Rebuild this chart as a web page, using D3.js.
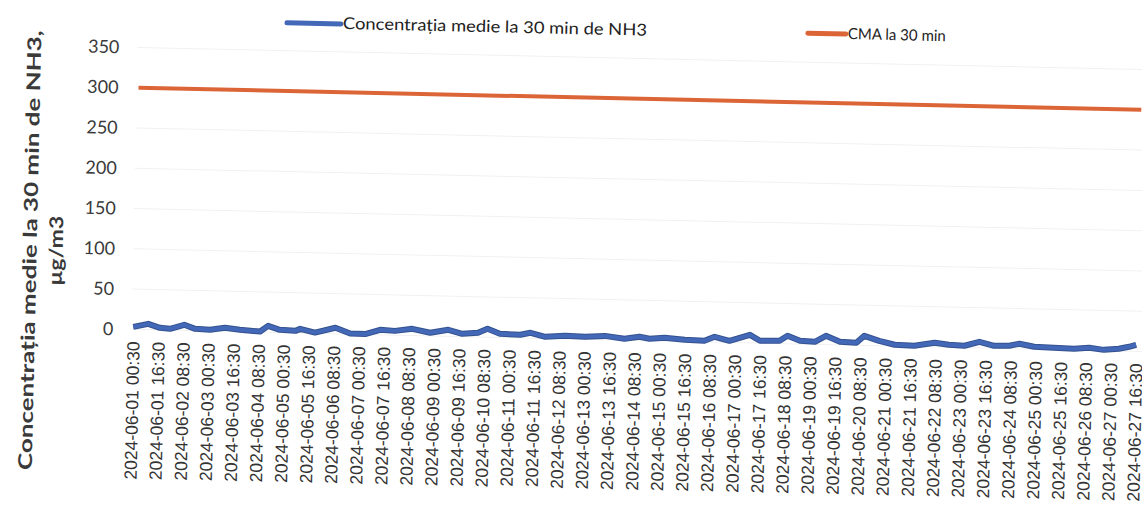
<!DOCTYPE html>
<html>
<head>
<meta charset="utf-8">
<script src="https://cdn.jsdelivr.net/npm/d3@7.9.0/dist/d3.min.js"></script>
<style>
  body { margin: 0; background: #fff; }
  svg { display: block; }
</style>
</head>
<body>
<svg width="1142" height="506"></svg>
<script>
// NH3 30-min average (µg/m3)
const nh3Times = [
  "2024-06-01 00:30", "2024-06-01 10:00", "2024-06-01 17:30", "2024-06-02 00:00",
  "2024-06-02 09:00", "2024-06-02 16:00", "2024-06-03 01:30", "2024-06-03 11:00",
  "2024-06-03 20:30", "2024-06-04 09:30", "2024-06-04 14:30", "2024-06-04 22:00",
  "2024-06-05 08:00", "2024-06-05 11:00", "2024-06-05 20:30", "2024-06-06 09:30",
  "2024-06-06 19:00", "2024-06-07 04:30", "2024-06-07 14:00", "2024-06-07 23:30",
  "2024-06-08 10:30", "2024-06-08 22:00", "2024-06-09 09:30", "2024-06-09 18:30",
  "2024-06-10 04:30", "2024-06-10 10:30", "2024-06-10 18:30", "2024-06-11 07:30",
  "2024-06-11 14:00", "2024-06-11 23:30", "2024-06-12 12:00", "2024-06-13 01:00",
  "2024-06-13 13:30", "2024-06-14 02:00", "2024-06-14 11:30", "2024-06-14 18:00",
  "2024-06-15 03:30", "2024-06-15 16:30", "2024-06-16 05:00", "2024-06-16 11:30",
  "2024-06-16 21:00", "2024-06-17 10:00", "2024-06-17 16:30", "2024-06-18 05:00",
  "2024-06-18 10:00", "2024-06-18 18:00", "2024-06-19 03:30", "2024-06-19 10:30",
  "2024-06-19 19:30", "2024-06-20 06:00", "2024-06-20 11:00", "2024-06-20 20:30",
  "2024-06-21 06:30", "2024-06-21 19:00", "2024-06-22 08:00", "2024-06-22 17:00",
  "2024-06-23 03:00", "2024-06-23 12:30", "2024-06-23 22:00", "2024-06-24 07:30",
  "2024-06-24 14:00", "2024-06-24 23:30", "2024-06-25 12:00", "2024-06-26 01:00",
  "2024-06-26 10:30", "2024-06-26 20:00", "2024-06-27 05:30", "2024-06-27 12:00",
  "2024-06-27 16:30"
];
const nh3Values = [
  3.1, 7.3, 2.7, 1.7, 7.1, 2.4, 1.6, 4.5,
  2.4, 0.8, 8.1, 3.5, 2.6, 5.2, 1.0, 7.5,
  0.9, 0.5, 6.2, 5.3, 8.3, 3.9, 8.1, 3.5,
  5.2, 10.4, 4.5, 3.9, 6.6, 2.0, 3.9, 3.1,
  4.8, 1.7, 4.6, 2.4, 4.1, 2.1, 1.4, 6.7,
  2.1, 10.1, 3.0, 3.5, 9.9, 4.0, 3.2, 10.9,
  3.9, 3.1, 12.0, 6.2, 1.7, 1.0, 5.2, 3.1,
  2.4, 7.7, 3.1, 3.6, 6.3, 3.0, 2.2, 1.6,
  3.2, 1.1, 2.9, 5.6, 8.3
];

// limit value (CMA) for 30 min
const cmaTimes = ["2024-06-01 00:30", "2024-06-27 16:30"];
const cmaValues = [300, 300];

const yTicks = [0, 50, 100, 150, 200, 250, 300, 350];

const xTickLabels = [
  "2024-06-01 00:30", "2024-06-01 16:30", "2024-06-02 08:30", "2024-06-03 00:30",
  "2024-06-03 16:30", "2024-06-04 08:30", "2024-06-05 00:30", "2024-06-05 16:30",
  "2024-06-06 08:30", "2024-06-07 00:30", "2024-06-07 16:30", "2024-06-08 08:30",
  "2024-06-09 00:30", "2024-06-09 16:30", "2024-06-10 08:30", "2024-06-11 00:30",
  "2024-06-11 16:30", "2024-06-12 08:30", "2024-06-13 00:30", "2024-06-13 16:30",
  "2024-06-14 08:30", "2024-06-15 00:30", "2024-06-15 16:30", "2024-06-16 08:30",
  "2024-06-17 00:30", "2024-06-17 16:30", "2024-06-18 08:30", "2024-06-19 00:30",
  "2024-06-19 16:30", "2024-06-20 08:30", "2024-06-21 00:30", "2024-06-21 16:30",
  "2024-06-22 08:30", "2024-06-23 00:30", "2024-06-23 16:30", "2024-06-24 08:30",
  "2024-06-25 00:30", "2024-06-25 16:30", "2024-06-26 08:30", "2024-06-27 00:30",
  "2024-06-27 16:30"
];

const seriesNames = ["Concentrația medie la 30 min de NH3", "CMA la 30 min"];
const seriesColors = ["#4468b8", "#dc6538"];

const parse = d3.timeParse("%Y-%m-%d %H:%M");
const nh3 = nh3Times.map((t, i) => ({ t: parse(t), v: nh3Values[i] }));
const cma = cmaTimes.map((t, i) => ({ t: parse(t), v: cmaValues[i] }));

const plotLeft = 135, plotRight = 1138;
const x = d3.scaleTime()
  .domain([parse(xTickLabels[0]), parse(xTickLabels[xTickLabels.length - 1])])
  .range([plotLeft, plotRight]);
const y = d3.scaleLinear().domain([0, 350]).range([339, 57]);

// the scanned page is slightly skewed, so the whole chart is tilted a bit
const svg = d3.select("svg")
  .append("g")
  .attr("transform", "rotate(1.26, 571, 253)");

// gridlines
svg.append("g")
  .selectAll("line")
  .data(yTicks)
  .join("line")
  .attr("x1", plotLeft - 2)
  .attr("x2", plotRight + 12)
  .attr("y1", (d) => y(d))
  .attr("y2", (d) => y(d))
  .attr("stroke", "#f1f1f1")
  .attr("stroke-width", 1);

// y axis labels
const yAxis = svg.append("g")
  .attr("transform", "translate(115,0)")
  .call(d3.axisLeft(y).tickValues(yTicks).tickSize(0).tickPadding(0));
yAxis.select(".domain").remove();
yAxis.selectAll("text")
  .attr("font-family", "Lato, sans-serif")
  .attr("font-size", "18px")
  .attr("fill", "#3a3a3a");

// x axis labels
const xAxis = svg.append("g")
  .attr("transform", "translate(0,351)")
  .call(d3.axisBottom(x).tickValues(xTickLabels.map(parse)).tickSize(0)
    .tickFormat((d, i) => xTickLabels[i]));
xAxis.select(".domain").remove();
xAxis.selectAll("text")
  .attr("font-family", "'Liberation Sans', Arial, sans-serif")
  .attr("font-size", "17.5px")
  .attr("fill", "#333")
  .attr("text-anchor", "end")
  .attr("transform", "rotate(-90)")
  .attr("x", 0)
  .attr("y", 0)
  .attr("dy", "0.35em");

// lines
const line = d3.line().x((d) => x(d.t)).y((d) => y(d.v));

svg.append("path")
  .datum(cma)
  .attr("fill", "none")
  .attr("stroke", seriesColors[1])
  .attr("stroke-width", 4)
  .attr("d", line);

svg.append("path")
  .datum(nh3)
  .attr("fill", "none")
  .attr("stroke", "#34528f")
  .attr("stroke-width", 6)
  .attr("stroke-linejoin", "round")
  .attr("d", line);
svg.append("path")
  .datum(nh3)
  .attr("fill", "none")
  .attr("stroke", seriesColors[0])
  .attr("stroke-width", 4)
  .attr("stroke-linejoin", "round")
  .attr("d", line);

// legend
const legendItems = [
  { x0: 282, x1: 336, y: 29, textLen: 304, size: 16.5 },
  { x0: 803, x1: 841, y: 28, textLen: 98, size: 15.5 },
];
legendItems.forEach((it, i) => {
  svg.append("line")
    .attr("x1", it.x0).attr("x2", it.x1)
    .attr("y1", it.y).attr("y2", it.y)
    .attr("stroke", seriesColors[i])
    .attr("stroke-width", 5)
    .attr("stroke-linecap", "round");
  svg.append("text")
    .attr("x", it.x1 + 2)
    .attr("y", it.y + 5)
    .attr("font-family", "Lato, sans-serif")
    .attr("font-size", it.size + "px")
    .attr("fill", "#222")
    .attr("textLength", it.textLen)
    .attr("lengthAdjust", "spacingAndGlyphs")
    .text(seriesNames[i]);
});

// y axis title, two lines
const titleLines = [
  { text: "Concentrația medie la 30 min de NH3,", x: 30, len: 440 },
  { text: "µg/m3", x: 56, len: 70 },
];
titleLines.forEach((tl) => {
  svg.append("text")
    .attr("transform", `translate(${tl.x},262) rotate(-90)`)
    .attr("x", -tl.len / 2)
    .attr("dy", "0.35em")
    .attr("font-family", "Lato, sans-serif")
    .attr("font-weight", "bold")
    .attr("font-size", "19px")
    .attr("fill", "#3a3a3a")
    .attr("textLength", tl.len)
    .attr("lengthAdjust", "spacingAndGlyphs")
    .text(tl.text);
});
</script>
</body>
</html>
